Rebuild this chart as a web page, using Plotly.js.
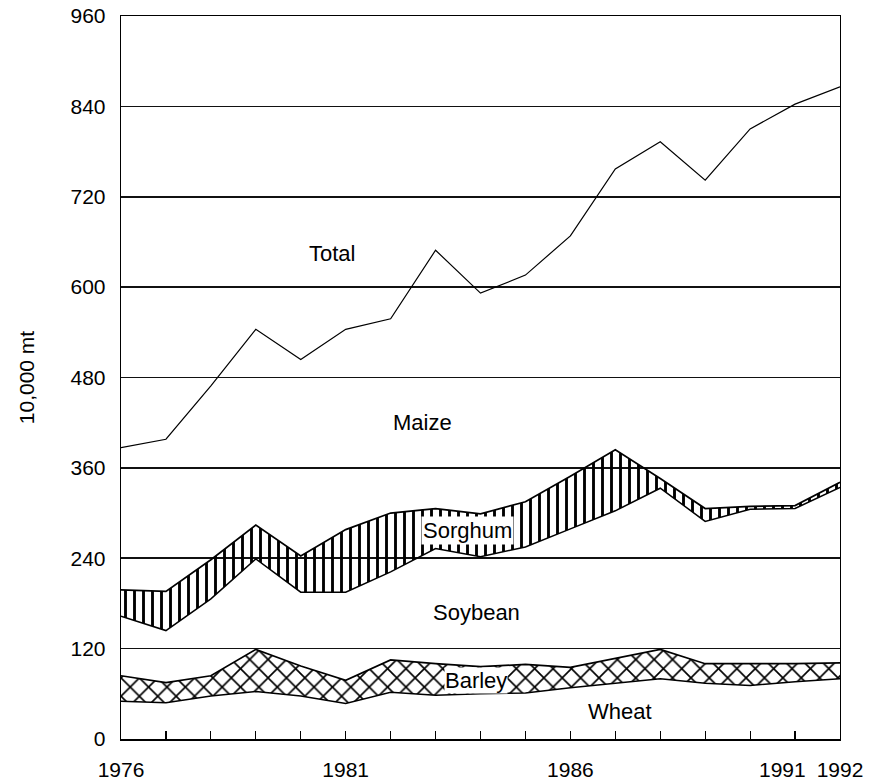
<!DOCTYPE html>
<html>
<head>
<meta charset="utf-8">
<script src="https://cdn.plot.ly/plotly-3.0.1.min.js"></script>
<style>html,body{margin:0;padding:0;background:#fff;}#chart{width:873px;height:783px;}</style>
</head>
<body>
<div id="chart"></div>
<script>
// Years and series values (10,000 mt)
const years   = [1976,1977,1978,1979,1980,1981,1982,1983,1984,1985,1986,1987,1988,1989,1990,1991,1992];
const wheat   = [50, 48, 57, 63, 57, 47, 62, 58, 60, 61, 68, 74, 80, 74, 71, 76, 80];
const barley  = [34, 27, 27, 56, 40, 31, 43, 42, 36, 38, 27, 33, 39, 26, 29, 24, 21];
const soybean = [79, 69, 102, 120, 98, 117, 117, 153, 146, 156, 184, 196, 214, 189, 205, 206, 233];
const sorghum = [35, 52, 52, 45, 48, 83, 78, 53, 57, 60, 70, 81, 13, 17, 4, 4, 7];
const maize   = [189, 202, 231, 260, 261, 266, 258, 343, 293, 301, 319, 373, 447, 436, 501, 533, 525];
const labelledYears = [1976, 1981, 1986, 1992];
const shiftedYearLabel = 1991;
const yTicks = [0, 120, 240, 360, 480, 600, 720, 840, 960];

const clear = 'rgba(0,0,0,0)';
function layer(name, vals, pattern, lw) {
  const t = {
    x: years, y: vals, name: name, type: 'scatter', mode: 'lines',
    stackgroup: 'grain', line: {color: '#000', width: lw},
    fillcolor: clear, hoverinfo: 'skip'
  };
  if (pattern) t.fillpattern = pattern;
  return t;
}
const traces = [
  layer('Wheat', wheat, null, 1.5),
  layer('Barley', barley, {shape: 'x', fgcolor: '#000', bgcolor: clear, size: 13, solidity: 0.24}, 1.7),
  layer('Soybean', soybean, null, 1.5),
  layer('Sorghum', sorghum, {shape: '|', fgcolor: '#000', bgcolor: clear, size: 9, solidity: 0.32}, 1.7),
  layer('Maize', maize, null, 1.2)
];

const font = {family: 'Liberation Sans, Arial, sans-serif', color: '#000'};
const lab = (text, x, y, extra) => Object.assign({
  text: text, x: x, y: y, xref: 'x', yref: 'y', showarrow: false,
  font: Object.assign({}, font, {size: 22})
}, extra || {});

const layout = {
  width: 873, height: 783,
  margin: {l: 121, r: 33, t: 16, b: 44},
  paper_bgcolor: '#fff', plot_bgcolor: '#fff',
  showlegend: false,
  font: font,
  xaxis: {
    range: [1976, 1992], tickvals: years,
    ticktext: years.map(y => labelledYears.includes(y) ? String(y) : ''),
    ticks: 'inside', ticklen: 8, tickwidth: 1.2, tickcolor: '#000',
    ticklabelstandoff: 11,
    showgrid: false, zeroline: false,
    showline: true, linecolor: '#000', linewidth: 1.5, mirror: true,
    tickfont: Object.assign({}, font, {size: 21})
  },
  yaxis: {
    range: [0, 960], tickvals: yTicks, ticktext: yTicks.map(String),
    ticks: '', showgrid: true, gridcolor: '#111', gridwidth: 1.6,
    zeroline: false, showline: true, linecolor: '#000', linewidth: 1.3, mirror: true,
    ticklabelstandoff: 10,
    tickfont: Object.assign({}, font, {size: 21}),
    title: {text: '10,000 mt', font: Object.assign({}, font, {size: 21}), standoff: 30}
  },
  annotations: [
    lab('Total', 1980.7, 645),
    lab('Maize', 1982.7, 420),
    lab('Sorghum', 1983.7, 277, {bgcolor: '#fff'}),
    lab('Soybean', 1983.9, 168),
    lab('Barley', 1983.9, 78, {bgcolor: '#fff', borderpad: 0}),
    lab('Wheat', 1987.1, 36),
    {text: String(shiftedYearLabel), x: shiftedYearLabel, y: 0, xref: 'x', yref: 'paper',
     yanchor: 'top', yshift: -17, xshift: -13, showarrow: false,
     font: Object.assign({}, font, {size: 21})}
  ]
};

Plotly.newPlot('chart', traces, layout, {staticPlot: true, displayModeBar: false});
</script>
</body>
</html>
